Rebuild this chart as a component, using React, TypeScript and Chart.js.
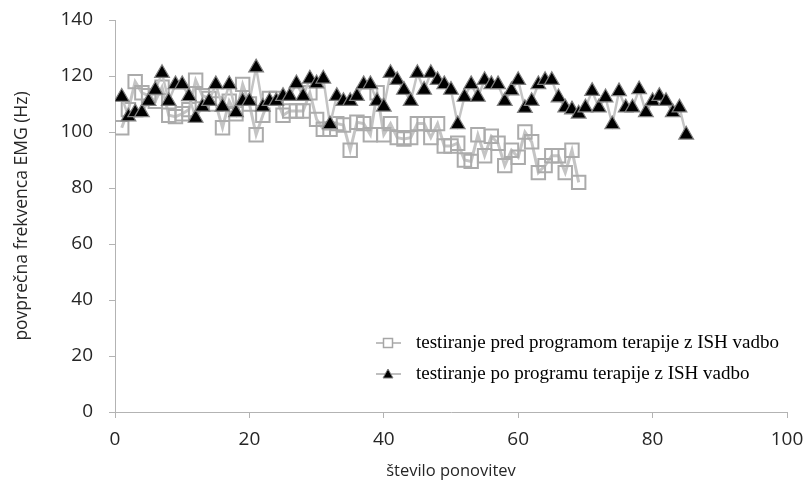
import React, { useEffect, useRef } from "react";
import { Chart, registerables } from "chart.js";

Chart.register(...registerables);

// Average EMG frequency (Hz) per repetition
const predLabel = "testiranje pred programom terapije z ISH vadbo";
const poLabel = "testiranje po programu terapije z ISH vadbo";

const predValues = [
  101.5, 108, 118, 114, 113, 111, 116, 106, 105.5, 106.5,
  108, 118.5, 113, 112, 110, 101.5, 111, 106.5, 117, 110,
  99, 106, 112, 112, 106, 107.5, 107.5, 107.5, 114, 104.5,
  101, 101, 103, 102.5, 93.5, 103.5, 103, 99, 114, 99,
  103, 98, 97.5, 98, 103, 103, 98, 103, 95, 95,
  96, 90, 89.5, 99, 91.5, 98.5, 96, 88, 93.5, 91,
  100, 96.5, 85.5, 88, 91.5, 91.5, 85.5, 93.5, 82,
];

const poValues = [
  112.5, 105.5, 107, 107, 111, 115, 121, 111, 117, 117,
  112.7, 105, 109, 111, 117, 109, 117, 107, 111, 111,
  123, 109, 111, 111, 112.8, 112.8, 117.3, 112.8, 119, 117.3,
  119, 102.7, 112.8, 111, 111, 112.8, 117, 117, 111, 109,
  121, 118.5, 115, 111, 121, 115, 121, 118.5, 117, 115,
  102.7, 112.5, 117, 112.5, 118.5, 117, 117, 111, 114.8, 118.5,
  108.5, 111, 117, 118.5, 118.5, 112.3, 108.7, 108, 106.5, 108.7,
  114.6, 108.7, 112.3, 102.7, 114.5, 108.7, 108.7, 115.2, 107, 111,
  112.8, 111, 107, 108.7, 99,
];

const xTitle = "število ponovitev";
const yTitle = "povprečna frekvenca EMG (Hz)";

const toPoints = (vals: number[]) => vals.map((y, i) => ({ x: i + 1, y }));

const legendPlugin = {
  id: "insideLegend",
  afterDraw(chart: any) {
    const ctx = chart.ctx as CanvasRenderingContext2D;
    const rows = [
      { label: predLabel, y: 343, kind: "rect" },
      { label: poLabel, y: 374, kind: "tri" },
    ];
    ctx.save();
    for (const r of rows) {
      ctx.strokeStyle = "#bfbfbf";
      ctx.lineWidth = 2;
      ctx.beginPath();
      ctx.moveTo(376, r.y);
      ctx.lineTo(401, r.y);
      ctx.stroke();
      if (r.kind === "rect") {
        ctx.fillStyle = "#ffffff";
        ctx.strokeStyle = "#a6a6a6";
        ctx.lineWidth = 1.5;
        ctx.fillRect(383.5, r.y - 4.5, 9, 9);
        ctx.strokeRect(383.5, r.y - 4.5, 9, 9);
      } else {
        ctx.fillStyle = "#000000";
        ctx.strokeStyle = "#808080";
        ctx.lineWidth = 1;
        ctx.beginPath();
        ctx.moveTo(388, r.y - 5);
        ctx.lineTo(393, r.y + 4);
        ctx.lineTo(383, r.y + 4);
        ctx.closePath();
        ctx.fill();
        ctx.stroke();
      }
      ctx.fillStyle = "#000000";
      ctx.font = '19px "Liberation Serif", "Times New Roman", serif';
      ctx.textBaseline = "middle";
      ctx.textAlign = "left";
      ctx.fillText(r.label, 416, r.y);
    }
    ctx.restore();
  },
};

export default function App() {
  const ref = useRef<HTMLCanvasElement | null>(null);

  useEffect(() => {
    if (!ref.current) return;
    const chart = new Chart(ref.current, {
      type: "scatter",
      data: {
        datasets: [
          {
            label: poLabel,
            data: toPoints(poValues),
            showLine: true,
            borderColor: "#c4c4c4",
            borderWidth: 2.5,
            pointStyle: "triangle",
            pointRadius: 8.5,
            pointBackgroundColor: "#000000",
            pointBorderColor: "#7f7f7f",
            pointBorderWidth: 1.2,
          },
          {
            label: predLabel,
            data: toPoints(predValues),
            showLine: true,
            borderColor: "#c4c4c4",
            borderWidth: 3,
            pointStyle: "rect",
            pointRadius: 9.5,
            pointBackgroundColor: "rgba(255,255,255,0)",
            pointBorderColor: "#ababab",
            pointBorderWidth: 2,
          },
        ],
      },
      options: {
        responsive: false,
        animation: false,
        layout: { padding: { left: 0, right: 18, top: 20, bottom: 0 } },
        plugins: {
          legend: { display: false },
          tooltip: { enabled: false },
        },
        scales: {
          x: {
            type: "linear",
            min: 0,
            max: 100,
            afterFit: (s: any) => {
              s.height = 69;
              s.paddingLeft = 0;
              s.paddingRight = 0;
            },
            ticks: {
              stepSize: 20,
              padding: 10,
              color: "#262626",
              font: { family: '"Open Sans", sans-serif', size: 19 },
            },
            grid: {
              display: true,
              drawOnChartArea: false,
              drawTicks: true,
              tickLength: 6,
              color: "#b3b3b3",
            },
            border: { color: "#b3b3b3", width: 1 },
            title: {
              display: true,
              text: xTitle,
              color: "#262626",
              font: { family: '"Open Sans", sans-serif', size: 16.5 },
              padding: { top: 0, bottom: 0 },
            },
          },
          y: {
            type: "linear",
            min: 0,
            max: 140,
            afterFit: (s: any) => {
              s.width = 115;
              s.paddingTop = 0;
              s.paddingBottom = 0;
            },
            ticks: {
              stepSize: 20,
              padding: 16,
              color: "#262626",
              font: { family: '"Open Sans", sans-serif', size: 19 },
            },
            grid: {
              display: true,
              drawOnChartArea: false,
              drawTicks: true,
              tickLength: 6,
              color: "#b3b3b3",
            },
            border: { color: "#b3b3b3", width: 1 },
            title: {
              display: true,
              text: yTitle,
              color: "#262626",
              font: { family: '"Open Sans", sans-serif', size: 17.5 },
              padding: { top: 12, bottom: 0 },
            },
          },
        },
      },
      plugins: [legendPlugin],
    });
    return () => chart.destroy();
  }, []);

  return (
    <div style={{ position: "absolute", left: 0, top: 0, width: 805, height: 481, background: "#fff" }}>
      <canvas ref={ref} width={805} height={481} />
    </div>
  );
}
